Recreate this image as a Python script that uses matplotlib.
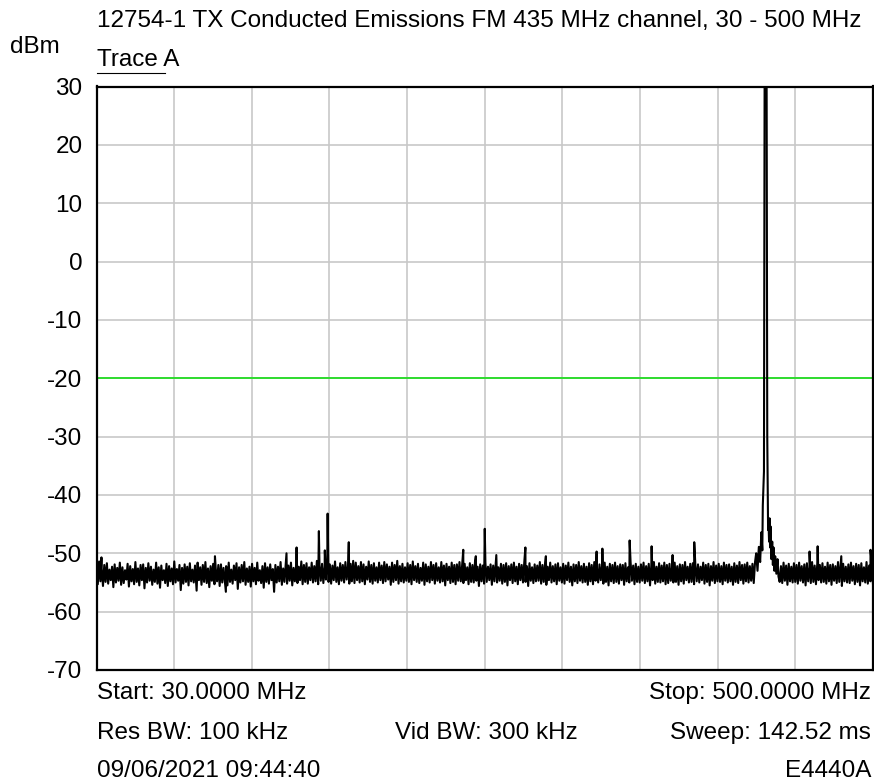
import matplotlib
matplotlib.use("Agg")
import matplotlib.pyplot as plt
import numpy as np

plt.rcParams["font.family"] = ["Liberation Sans", "DejaVu Sans"]

# 图表文字
title = "12754-1 TX Conducted Emissions FM 435 MHz channel, 30 - 500 MHz"
unit_label = "dBm"
trace_label = "Trace A"
footer_left = ["Start: 30.0000 MHz", "Res BW: 100 kHz", "09/06/2021 09:44:40"]
footer_mid = ["", "Vid BW: 300 kHz", ""]
footer_right = ["Stop: 500.0000 MHz", "Sweep: 142.52 ms", "E4440A"]

# 坐标轴
start_mhz, stop_mhz = 30.0, 500.0
y_ticks = [30, 20, 10, 0, -10, -20, -30, -40, -50, -60, -70]
limit_dbm = -20

# 噪底 (从图上估读, 30 - 500 MHz 等间隔扫描点)
floor_dbm = [
    -52.1, -55.3, -51.4, -54.8, -52.6, -55.6, -52.0, -54.9, -51.7, -55.2, -52.8, -54.6, -52.3, -55.8, -51.9, -55.0, -52.5, -54.7, -51.6, -55.4,
    -52.4, -55.1, -52.9, -54.5, -51.8, -55.7, -52.2, -54.8, -52.7, -55.3, -51.5, -54.9, -52.6, -55.5, -52.0, -54.6, -51.9, -56.0, -52.5, -55.0,
    -51.7, -54.7, -52.3, -55.4, -52.8, -54.9, -51.6, -55.2, -52.4, -55.9, -52.1, -54.6, -52.9, -55.1, -51.8, -55.6, -52.2, -54.8, -52.6, -55.3,
    -51.4, -55.0, -52.7, -54.7, -52.0, -56.3, -52.5, -55.2, -51.9, -54.9, -52.3, -55.5, -51.7, -54.8, -52.8, -55.0, -52.1, -55.7, -51.6, -54.6,
    -52.4, -55.4, -52.0, -54.9, -51.5, -55.1, -52.6, -55.8, -52.2, -54.7, -51.8, -55.3, -52.7, -54.8, -52.0, -55.6, -51.9, -55.0, -52.5, -54.7,
    -52.2, -55.5, -51.6, -54.9, -52.8, -55.2, -52.1, -54.6, -51.7, -56.1, -52.4, -55.0, -52.0, -54.8, -51.5, -55.4, -52.6, -54.9, -52.3, -55.7,
    -51.8, -54.8, -52.5, -55.3, -51.6, -54.7, -52.9, -55.1, -52.2, -55.9, -51.7, -54.9, -52.4, -55.2, -51.9, -54.6, -52.7, -56.6, -52.0, -55.0,
    -52.3, -54.8, -51.5, -55.4, -52.6, -54.9, -51.8, -55.2, -52.1, -54.7, -51.6, -55.5, -52.5, -54.8, -51.9, -55.1, -52.3, -54.6, -51.4, -55.3,
    -52.0, -54.9, -51.7, -55.2, -52.4, -54.6, -51.6, -55.0, -52.2, -54.8, -51.3, -55.3, -52.0, -54.7, -51.8, -55.1, -52.3, -54.5, -51.5, -54.9,
    -51.9, -55.2, -52.1, -54.6, -51.4, -54.9, -52.4, -55.3, -51.7, -54.7, -52.0, -55.0, -51.5, -54.5, -52.2, -55.2, -51.8, -54.8, -51.3, -55.1,
    -51.6, -54.6, -52.2, -55.0, -51.5, -54.8, -51.9, -55.3, -52.3, -54.5, -51.4, -54.9, -52.0, -55.2, -51.7, -54.7, -52.4, -55.0, -51.6, -54.6,
    -52.1, -55.1, -51.5, -54.8, -51.9, -54.5, -52.3, -55.4, -51.6, -54.9, -52.0, -54.6, -51.3, -55.2, -52.2, -54.8, -51.8, -55.0, -52.4, -54.7,
    -51.7, -54.9, -52.0, -55.3, -51.4, -54.6, -52.2, -54.9, -51.8, -55.1, -52.5, -54.7, -51.6, -55.4, -51.9, -54.8, -52.3, -55.0, -51.5, -54.6,
    -52.0, -55.2, -51.7, -54.7, -52.4, -55.0, -51.5, -54.8, -52.1, -55.5, -51.8, -54.6, -52.3, -55.1, -51.6, -54.9, -52.0, -55.3, -51.9, -54.7,
    -51.5, -54.8, -52.2, -55.1, -51.8, -54.6, -52.4, -55.3, -51.7, -54.9, -52.0, -55.0, -51.4, -54.7, -52.3, -55.6, -51.9, -54.8, -52.1, -55.2,
    -51.6, -54.9, -52.3, -54.6, -51.9, -55.4, -52.1, -54.8, -51.5, -55.0, -52.4, -54.7, -51.8, -55.2, -52.0, -54.9, -51.7, -55.5, -52.2, -54.6,
    -51.9, -55.1, -51.6, -54.8, -52.3, -55.3, -51.8, -54.6, -52.0, -55.0, -51.5, -54.9, -52.2, -55.6, -51.7, -54.7, -52.4, -55.1, -51.9, -54.8,
    -52.1, -54.7, -51.5, -55.2, -52.0, -54.9, -51.8, -55.4, -52.3, -54.6, -51.6, -55.0, -52.2, -54.8, -51.9, -55.3, -51.7, -54.7, -52.4, -55.0,
    -51.8, -55.2, -52.1, -54.6, -51.6, -54.9, -52.3, -55.5, -51.9, -54.8, -52.0, -55.1, -51.5, -54.7, -52.2, -55.0, -51.8, -54.9, -52.3, -55.4,
    -51.7, -54.8, -52.0, -55.3, -51.5, -54.7, -52.4, -55.0, -51.9, -54.6, -52.1, -55.2, -51.6, -54.9, -52.3, -55.5, -51.8, -54.8, -52.0, -55.1,
    -51.6, -54.9, -52.2, -55.2, -51.9, -54.6, -52.0, -55.4, -51.7, -54.8, -52.4, -55.0, -51.5, -54.7, -52.1, -55.3, -51.8, -54.9, -52.3, -55.0,
    -51.9, -54.7, -51.6, -55.1, -52.2, -54.8, -51.8, -55.5, -52.0, -54.6, -51.5, -55.2, -52.3, -54.9, -51.7, -55.0, -52.1, -54.8, -51.6, -55.3,
    -52.0, -55.1, -51.8, -54.7, -52.4, -55.0, -51.6, -54.9, -52.2, -55.4, -51.9, -54.8, -52.0, -55.2, -51.5, -54.6, -52.3, -55.0, -51.8, -54.9,
    -51.7, -55.3, -52.1, -54.8, -51.9, -55.0, -52.3, -54.6, -51.6, -55.2, -52.0, -54.9, -51.8, -55.5, -52.2, -54.7, -51.5, -55.1, -52.1, -54.8,
    -51.8, -54.9, -52.2, -55.3, -51.6, -54.7, -52.0, -55.0, -51.9, -54.8, -52.3, -55.4, -51.7, -54.9, -52.1, -55.1, -51.5, -54.6, -52.0, -55.2,
    -51.9, -54.8, -51.6, -55.0, -52.2, -54.7, -51.8, -55.1, -51.5, -54.9, -52.0, -54.6, -51.7, -55.0, -52.1, -54.8, -51.6, -55.2, -51.9, -54.7,
    -51.8, -55.0, -51.5, -54.8, -52.0, -55.3, -51.7, -54.9, -52.2, -55.1, -51.6, -54.7, -52.1, -55.4, -51.8, -54.8, -52.3, -55.0, -51.7, -54.9,
    -52.0, -55.2, -51.6, -54.7, -52.2, -55.0, -51.9, -55.5, -51.7, -54.8, -52.4, -55.1, -51.5, -54.9, -52.1, -55.3, -51.8, -54.6, -52.0, -55.0,
    -51.7, -54.9, -52.3, -55.2, -51.6, -54.8, -52.0, -55.4, -51.9, -54.7, -52.2, -55.1, -51.5, -54.9, -52.1, -55.6, -51.8, -54.8, -52.3, -55.0,
    -51.9, -55.1, -51.6, -54.7, -52.2, -55.3, -51.8, -54.9, -52.0, -55.5, -51.7, -54.8, -52.4, -55.0, -51.5, -55.2, -52.1, -54.8, -51.8, -55.3,
]

# 杂散 (频率 MHz, 电平 dBm)
spur_mhz = [33.0, 90.6, 101.7, 108.3, 145.0, 151.1, 164.6, 168.2, 169.9, 182.7,
            252.0, 259.6, 265.0, 272.0, 289.6, 302.0, 332.7, 336.2, 352.7, 366.0,
            378.7, 391.8, 461.6, 466.5, 480.8, 498.5]
spur_dbm = [-50.7, -56.4, -50.5, -56.6, -50.0, -49.0, -46.2, -49.5, -43.2, -48.1,
            -49.4, -50.5, -45.8, -50.3, -49.0, -50.5, -49.7, -49.2, -47.8, -48.8,
            -50.3, -48.1, -49.7, -48.8, -50.5, -49.4]

# 载波 435 MHz 附近
carrier_mhz = [429.3, 430.1, 430.9, 431.7, 432.4, 433.0, 433.3, 434.0, 434.4, 435.0,
               435.6, 436.0, 436.5, 436.8, 437.1, 437.4, 437.7, 438.0, 438.5, 439.0,
               439.4, 439.8, 440.3, 440.8, 441.5, 442.2, 442.8]
carrier_dbm = [-50.0, -53.0, -48.9, -51.5, -46.4, -49.5, -41.8, -36.0, 32.0, 34.0,
               32.0, -30.0, -46.0, -45.2, -48.0, -44.0, -49.0, -45.4, -51.0, -48.0,
               -52.0, -49.0, -53.0, -50.5, -53.5, -51.0, -54.0]


def plot_spectrum():
    fig = plt.figure(figsize=(8.74, 7.82), dpi=100)
    W, H = 874.0, 782.0
    ax = fig.add_axes([96.5 / W, 1 - 670 / H, (873 - 96.5) / W, (670 - 86.5) / H])

    # 合并噪底、杂散和载波为一条迹线
    floor_mhz = np.linspace(start_mhz, stop_mhz, len(floor_dbm))
    floor_arr = np.array(floor_dbm)
    keep = (floor_mhz < carrier_mhz[0] - 0.4) | (floor_mhz > carrier_mhz[-1] + 0.4)
    f = np.concatenate([floor_mhz[keep], spur_mhz, carrier_mhz])
    p = np.concatenate([floor_arr[keep], spur_dbm, carrier_dbm])
    order = np.argsort(f, kind="stable")

    ax.plot(f[order], p[order], color="black", lw=1.5, zorder=3)
    ax.axhline(limit_dbm, color="#22dd22", lw=1.3, zorder=2)

    ax.set_xlim(start_mhz, stop_mhz)
    ax.set_ylim(-70, 30)
    ax.set_xticks(np.linspace(start_mhz, stop_mhz, 11))
    ax.set_xticklabels([])
    ax.set_yticks(y_ticks)
    ax.set_yticklabels([str(t) for t in y_ticks], fontsize=17.5)
    ax.tick_params(length=0, pad=10)
    ax.grid(True, color="#c8c8c8", lw=1.2)
    ax.set_axisbelow(True)
    for s in ax.spines.values():
        s.set_linewidth(1.6)
        s.set_zorder(4)

    # 顶部文字
    fig.text(97 / W, 1 - 21 / H, title, fontsize=17.5, ha="left", va="center")
    fig.text(10 / W, 1 - 47 / H, unit_label, fontsize=17.5, ha="left", va="center")
    fig.text(97 / W, 1 - 60 / H, trace_label, fontsize=17.5, ha="left", va="center")
    fig.add_artist(plt.Line2D([97 / W, 165 / W], [1 - 73 / H, 1 - 73 / H],
                              color="black", lw=0.8, transform=fig.transFigure))

    # 底部参数
    for i, yy in enumerate([693, 733, 771]):
        fig.text(97 / W, 1 - yy / H, footer_left[i], fontsize=17.5, ha="left", va="center")
        fig.text(486 / W, 1 - yy / H, footer_mid[i], fontsize=17.5, ha="center", va="center")
        fig.text(871 / W, 1 - yy / H, footer_right[i], fontsize=17.5, ha="right", va="center")

    fig.savefig("out.png", dpi=100)


if __name__ == "__main__":
    plot_spectrum()
